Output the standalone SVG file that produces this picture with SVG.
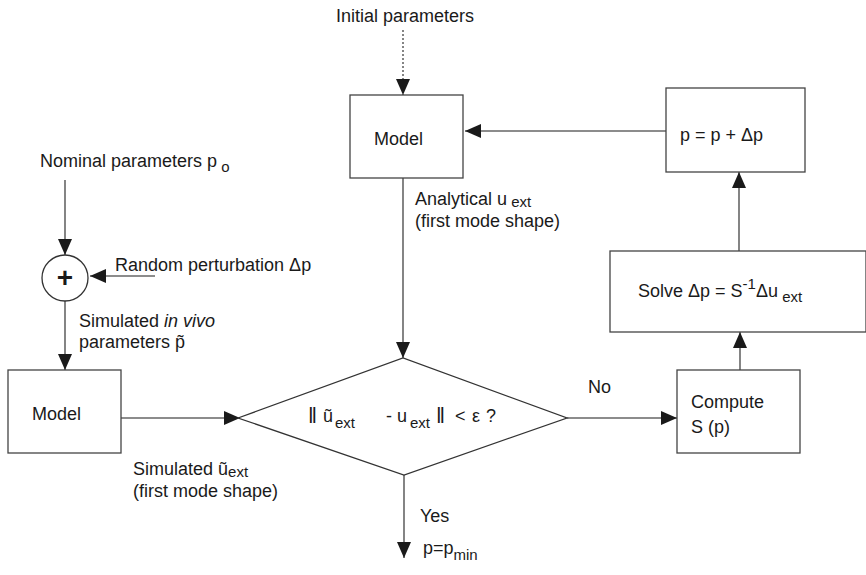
<svg xmlns="http://www.w3.org/2000/svg" width="866" height="575" viewBox="0 0 866 575">
<defs>
<marker id="ah" markerUnits="userSpaceOnUse" markerWidth="17" markerHeight="15" refX="16" refY="7" orient="auto">
<path d="M0,0 L16,7 L0,14 z" fill="#1a1a1a"/>
</marker>
<style>
text{font-family:"Liberation Sans",Arial,sans-serif;font-size:18px;fill:#1a1a1a}
.sub{font-size:15px}
.box{fill:#fff;stroke:#444;stroke-width:1.3}
.ln{stroke:#666;stroke-width:1.6;fill:none;marker-end:url(#ah)}
</style>
</defs>
<rect width="866" height="575" fill="#fff"/>
<g id="connectors">
<line class="ln" x1="403" y1="30" x2="403" y2="95" stroke-dasharray="2,2"/>
<line class="ln" x1="666" y1="131" x2="465" y2="131"/>
<line class="ln" x1="739" y1="251" x2="739" y2="172"/>
<line class="ln" x1="740" y1="370" x2="740" y2="332"/>
<line class="ln" x1="567" y1="418" x2="677" y2="418"/>
<line class="ln" x1="403" y1="178" x2="403" y2="358"/>
<line class="ln" x1="121" y1="418" x2="240" y2="418"/>
<line class="ln" x1="404" y1="475" x2="404" y2="558"/>
<line class="ln" x1="65" y1="180" x2="65" y2="255"/>
<line class="ln" x1="155" y1="276" x2="90" y2="276"/>
<line class="ln" x1="65" y1="300" x2="65" y2="370"/>
</g>
<g id="initial"><text x="336" y="22">Initial parameters</text></g>
<g id="model-top"><rect class="box" x="350" y="95" width="113" height="83"/><text x="374" y="145">Model</text></g>
<g id="update"><rect class="box" x="666" y="88" width="139" height="84"/><text x="680" y="141">p = p + Δp</text></g>
<g id="solve"><rect class="box" x="610" y="251" width="256" height="81"/><text x="638" y="297">Solve Δp = S<tspan class="sub" dy="-8">-1</tspan><tspan dy="8">Δu</tspan><tspan class="sub" dy="5"> ext</tspan></text></g>
<g id="compute"><rect class="box" x="677" y="370" width="123" height="83"/><text x="691" y="408">Compute</text><text x="691" y="433">S (p)</text></g>
<g id="nominal"><text x="40" y="167">Nominal parameters p<tspan class="sub" dy="5"> o</tspan></text></g>
<g id="sum"><circle cx="65" cy="278" r="23" fill="#fff" stroke="#333" stroke-width="1.3"/><text x="65" y="287" text-anchor="middle" style="font-size:28px;font-weight:bold">+</text></g>
<g id="perturb"><text x="115" y="271">Random perturbation Δp</text></g>
<g id="simulated-params"><text x="79" y="327">Simulated <tspan font-style="italic">in vivo</tspan></text><text x="79" y="348">parameters p̃</text></g>
<g id="model-left"><rect class="box" x="8" y="370" width="113" height="83"/><text x="32" y="420">Model</text></g>
<g id="analytical"><text x="415" y="205">Analytical u<tspan class="sub" dy="2"> ext</tspan></text><text x="415" y="227">(first mode shape)</text></g>
<g id="decision"><polygon points="238,418 403,358 567,418 404,475" fill="#fff" stroke="#333" stroke-width="1.3"/>
<text x="308" y="423" style="font-size:22px">‖</text>
<text x="323" y="422">ũ</text>
<text x="335" y="428" class="sub">ext</text>
<text x="386" y="422">- u</text>
<text x="410" y="428" class="sub">ext</text>
<text x="436" y="423" style="font-size:22px">‖</text>
<text x="455" y="422">&lt;</text>
<text x="472" y="422">ε</text>
<text x="486" y="422">?</text>
</g>
<g id="no-label"><text x="588" y="393">No</text></g>
<g id="simulated-u"><text x="133" y="475">Simulated ũ<tspan class="sub" dy="2">ext</tspan></text><text x="133" y="497">(first mode shape)</text></g>
<g id="yes-label"><text x="420" y="522">Yes</text></g>
<g id="result"><text x="423" y="554">p=p<tspan class="sub" dy="6">min</tspan></text></g>
</svg>
